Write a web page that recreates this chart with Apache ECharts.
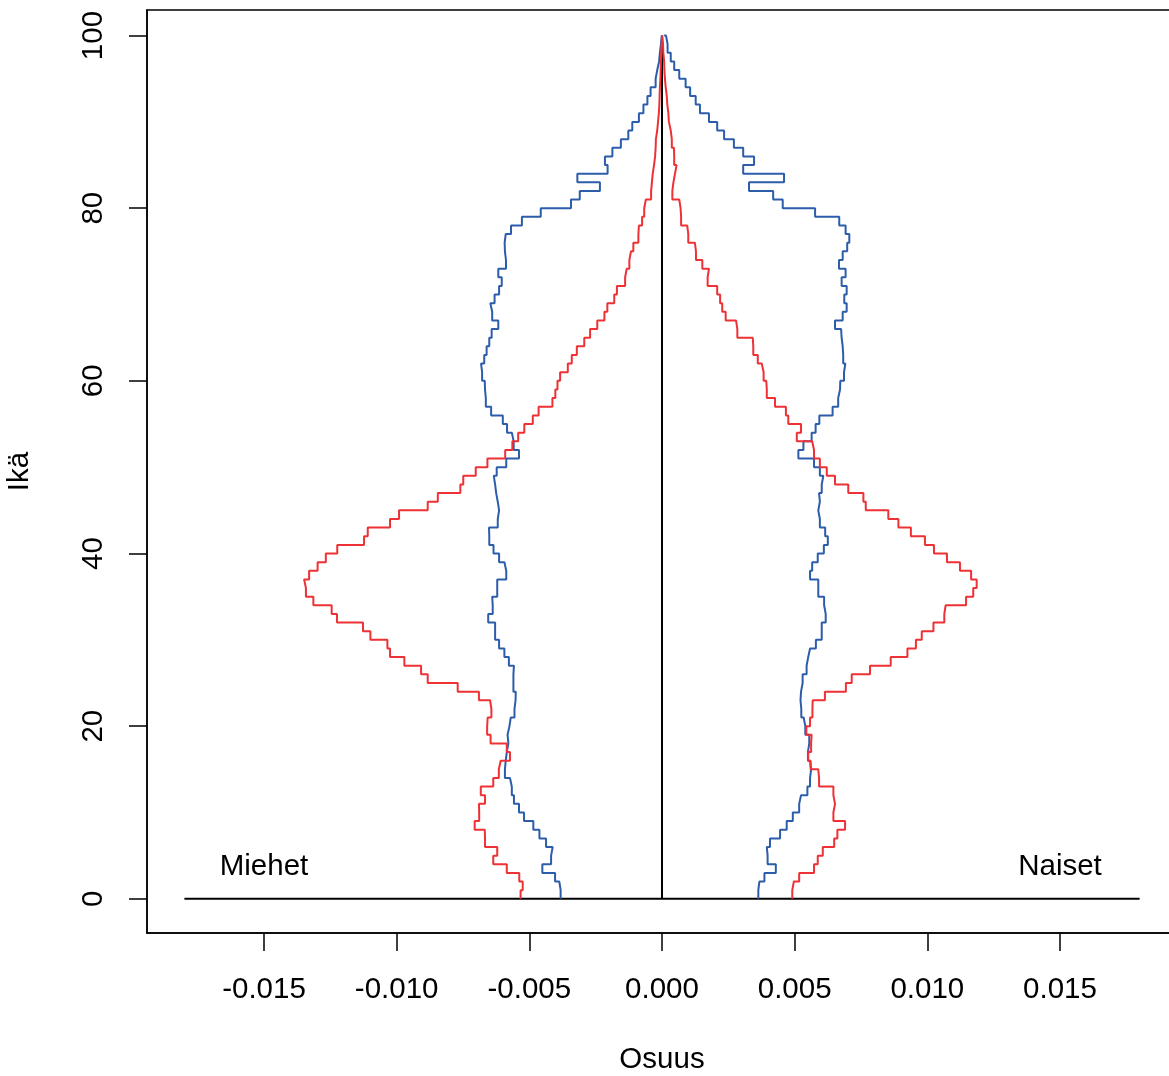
<!DOCTYPE html>
<html>
<head>
<meta charset="utf-8">
<script src="https://cdn.jsdelivr.net/npm/echarts@6/dist/echarts.min.js"></script>
<style>
  html, body { margin: 0; padding: 0; background: #ffffff; }
  #chart { width: 1169px; height: 1076px; }
</style>
</head>
<body>
<div id="chart"></div>
<script>
// Age in whole years, 0..100
const AGES = Array.from({ length: 101 }, (_, i) => i);

// Share of population by single year of age (men drawn to the left)
const MEN_BLUE = [
  0.00382, 0.00387, 0.00403, 0.00451, 0.00418, 0.00412, 0.00437, 0.00462, 0.00485, 0.00520,
  0.00539, 0.00558, 0.00566, 0.00573, 0.00592, 0.00589, 0.00585, 0.00579, 0.00582, 0.00575,
  0.00570, 0.00556, 0.00552, 0.00551, 0.00560, 0.00560, 0.00558, 0.00577, 0.00594, 0.00614,
  0.00629, 0.00629, 0.00655, 0.00638, 0.00640, 0.00621, 0.00621, 0.00587, 0.00594, 0.00614,
  0.00635, 0.00651, 0.00652, 0.00619, 0.00614, 0.00619, 0.00625, 0.00629, 0.00634, 0.00623,
  0.00587, 0.00539, 0.00559, 0.00566, 0.00584, 0.00600, 0.00644, 0.00664, 0.00667, 0.00668,
  0.00678, 0.00682, 0.00670, 0.00661, 0.00651, 0.00642, 0.00617, 0.00640, 0.00647, 0.00631,
  0.00614, 0.00604, 0.00617, 0.00588, 0.00592, 0.00593, 0.00589, 0.00569, 0.00528, 0.00457,
  0.00343, 0.00310, 0.00234, 0.00319, 0.00205, 0.00215, 0.00187, 0.00155, 0.00127, 0.00112,
  0.00087, 0.00070, 0.00055, 0.00043, 0.00024, 0.00018, 0.00011, 0.00008, 0.00004, 0.00001,
  0.00000
];
const MEN_RED = [
  0.00533, 0.00525, 0.00538, 0.00585, 0.00636, 0.00621, 0.00667, 0.00668, 0.00706, 0.00689,
  0.00690, 0.00667, 0.00683, 0.00636, 0.00615, 0.00608, 0.00573, 0.00585, 0.00646, 0.00659,
  0.00657, 0.00643, 0.00648, 0.00690, 0.00770, 0.00883, 0.00908, 0.00971, 0.01025, 0.01035,
  0.01099, 0.01127, 0.01225, 0.01245, 0.01314, 0.01342, 0.01349, 0.01330, 0.01298, 0.01267,
  0.01224, 0.01123, 0.01109, 0.01025, 0.00991, 0.00883, 0.00845, 0.00760, 0.00749, 0.00702,
  0.00658, 0.00591, 0.00564, 0.00542, 0.00519, 0.00487, 0.00465, 0.00413, 0.00402, 0.00394,
  0.00384, 0.00355, 0.00340, 0.00321, 0.00293, 0.00271, 0.00244, 0.00217, 0.00206, 0.00180,
  0.00170, 0.00139, 0.00133, 0.00123, 0.00117, 0.00108, 0.00089, 0.00087, 0.00075, 0.00067,
  0.00061, 0.00041, 0.00038, 0.00035, 0.00030, 0.00026, 0.00024, 0.00023, 0.00018, 0.00015,
  0.00012, 0.00010, 0.00009, 0.00008, 0.00006, 0.00005, 0.00004, 0.00003, 0.00001, 0.00000,
  0.00000
];
// Women drawn to the right
const WOMEN_BLUE = [
  0.00363, 0.00367, 0.00386, 0.00429, 0.00398, 0.00395, 0.00407, 0.00445, 0.00470, 0.00493,
  0.00517, 0.00524, 0.00548, 0.00558, 0.00562, 0.00558, 0.00550, 0.00555, 0.00555, 0.00540,
  0.00534, 0.00525, 0.00522, 0.00524, 0.00530, 0.00530, 0.00545, 0.00551, 0.00558, 0.00580,
  0.00602, 0.00602, 0.00617, 0.00611, 0.00611, 0.00589, 0.00589, 0.00558, 0.00566, 0.00587,
  0.00610, 0.00625, 0.00615, 0.00595, 0.00589, 0.00595, 0.00592, 0.00602, 0.00608, 0.00595,
  0.00573, 0.00514, 0.00533, 0.00564, 0.00579, 0.00593, 0.00643, 0.00664, 0.00671, 0.00672,
  0.00686, 0.00691, 0.00683, 0.00681, 0.00677, 0.00675, 0.00652, 0.00681, 0.00696, 0.00687,
  0.00696, 0.00677, 0.00692, 0.00667, 0.00681, 0.00698, 0.00706, 0.00692, 0.00668, 0.00577,
  0.00455, 0.00419, 0.00328, 0.00460, 0.00306, 0.00347, 0.00306, 0.00271, 0.00234, 0.00208,
  0.00177, 0.00143, 0.00127, 0.00106, 0.00089, 0.00065, 0.00046, 0.00033, 0.00021, 0.00015,
  0.00008
];
const WOMEN_RED = [
  0.00491, 0.00497, 0.00517, 0.00573, 0.00587, 0.00606, 0.00649, 0.00661, 0.00690, 0.00646,
  0.00652, 0.00646, 0.00646, 0.00592, 0.00589, 0.00560, 0.00551, 0.00562, 0.00564, 0.00544,
  0.00558, 0.00567, 0.00568, 0.00614, 0.00693, 0.00715, 0.00784, 0.00862, 0.00925, 0.00957,
  0.00979, 0.01023, 0.01064, 0.01069, 0.01146, 0.01173, 0.01186, 0.01165, 0.01123, 0.01074,
  0.01025, 0.00991, 0.00938, 0.00891, 0.00853, 0.00768, 0.00759, 0.00702, 0.00652, 0.00621,
  0.00595, 0.00573, 0.00566, 0.00508, 0.00524, 0.00476, 0.00467, 0.00426, 0.00395, 0.00393,
  0.00383, 0.00376, 0.00361, 0.00344, 0.00342, 0.00284, 0.00279, 0.00240, 0.00227, 0.00219,
  0.00208, 0.00172, 0.00177, 0.00152, 0.00128, 0.00124, 0.00099, 0.00095, 0.00072, 0.00070,
  0.00065, 0.00039, 0.00043, 0.00049, 0.00055, 0.00046, 0.00045, 0.00037, 0.00033, 0.00026,
  0.00024, 0.00020, 0.00018, 0.00014, 0.00011, 0.00009, 0.00008, 0.00005, 0.00004, 0.00001,
  0.00000
];

// Axis ticks and reference lines
const X_TICKS = [-0.015, -0.010, -0.005, 0, 0.005, 0.010, 0.015];
const Y_TICKS = [0, 20, 40, 60, 80, 100];
const X_RANGE = [-0.01941, 0.01941];
const Y_RANGE = [-3.96, 102.96];
const BASE_SPAN = [-0.018, 0.018];   // horizontal line at age 0
const AGE_SPAN = [0, 100];           // vertical line at share 0
const SIDE_LABELS = [
  { text: 'Miehet', x: -0.015, y: 4 },
  { text: 'Naiset', x: 0.015, y: 4 }
];

const BLUE = '#2C5DAA';
const RED = '#EE3135';
const FONT = '"Liberation Sans", Arial, Helvetica, sans-serif';
const FS = 29.5;

const leftSide = arr => arr.map((v, i) => [-v, AGES[i]]);
const rightSide = arr => arr.map((v, i) => [v, AGES[i]]);

const stepLine = (name, data, color) => ({
  type: 'line',
  name,
  data,
  step: 'start',
  symbol: 'none',
  showSymbol: false,
  silent: true,
  z: 5,
  lineStyle: { color, width: 2 },
  itemStyle: { color }
});

const refLine = (name, data) => ({
  type: 'line',
  name,
  data,
  symbol: 'none',
  showSymbol: false,
  silent: true,
  z: 2,
  lineStyle: { color: '#000000', width: 2 }
});

const chart = echarts.init(document.getElementById('chart'), null, { renderer: 'canvas' });

chart.setOption({
  animation: false,
  backgroundColor: '#ffffff',
  grid: {
    left: 147, top: 10, width: 1030, height: 923,
    outerBoundsMode: 'none',
    containLabel: false,
    show: true, borderColor: '#000000', borderWidth: 1.5,
    backgroundColor: 'transparent'
  },
  xAxis: {
    type: 'value',
    min: X_RANGE[0], max: X_RANGE[1],
    name: 'Osuus',
    nameLocation: 'middle',
    nameGap: 112,
    nameTextStyle: { fontFamily: FONT, fontSize: FS, color: '#000000' },
    axisLine: { show: true, onZero: false, lineStyle: { color: '#000000', width: 1.5 } },
    axisTick: { show: true, inside: false, length: 18, customValues: X_TICKS,
                lineStyle: { color: '#000000', width: 1.5 } },
    axisLabel: { customValues: X_TICKS, formatter: v => v.toFixed(3), margin: 42,
                 fontFamily: FONT, fontSize: FS, color: '#000000' },
    splitLine: { show: false }
  },
  yAxis: {
    type: 'value',
    min: Y_RANGE[0], max: Y_RANGE[1],
    name: 'Ikä',
    nameLocation: 'middle',
    nameGap: 112,
    nameRotate: 90,
    nameTextStyle: { fontFamily: FONT, fontSize: FS, color: '#000000' },
    axisLine: { show: true, onZero: false, lineStyle: { color: '#000000', width: 1.5 } },
    axisTick: { show: true, inside: false, length: 18, customValues: Y_TICKS,
                lineStyle: { color: '#000000', width: 1.5 } },
    axisLabel: { customValues: Y_TICKS, rotate: 90, margin: 38,
                 fontFamily: FONT, fontSize: FS, color: '#000000' },
    splitLine: { show: false }
  },
  series: [
    refLine('baseline', BASE_SPAN.map(x => [x, AGE_SPAN[0]])),
    refLine('centre', AGE_SPAN.map(y => [0, y])),
    stepLine('Miehet B', leftSide(MEN_BLUE), BLUE),
    stepLine('Naiset B', rightSide(WOMEN_BLUE), BLUE),
    stepLine('Miehet R', leftSide(MEN_RED), RED),
    stepLine('Naiset R', rightSide(WOMEN_RED), RED)
  ]
});

// Side captions placed at data coordinates through the grid's own scales
chart.setOption({
  graphic: SIDE_LABELS.map(d => {
    const [px, py] = chart.convertToPixel({ gridIndex: 0 }, [d.x, d.y]);
    return {
      type: 'text',
      x: px, y: py + 3,
      silent: true,
      z: 10,
      style: {
        text: d.text,
        fill: '#000000',
        font: FS + 'px ' + FONT,
        align: 'center',
        verticalAlign: 'middle'
      }
    };
  })
});
</script>
</body>
</html>
